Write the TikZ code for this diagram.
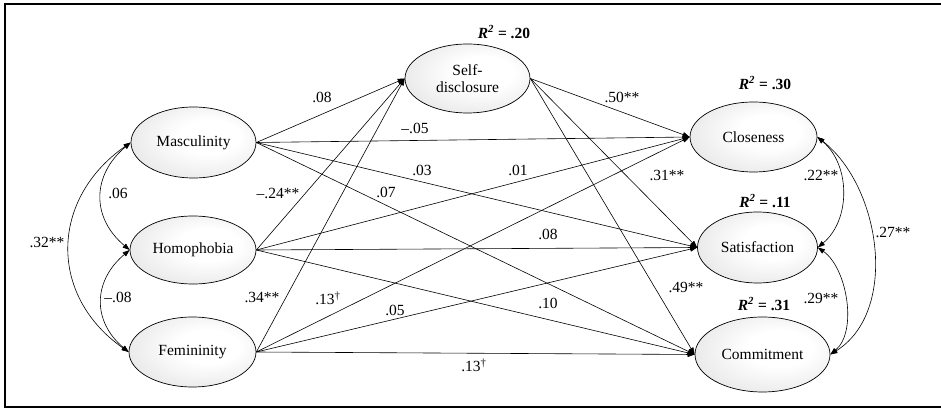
\documentclass[tikz,border=0pt]{standalone}
\usepackage{fontspec}
\setmainfont{Liberation Serif}
\usetikzlibrary{shapes.geometric, arrows.meta, positioning}

\pgfdeclareradialshading{ellshade}{\pgfpoint{8bp}{5bp}}{color(0bp)=(white); color(12bp)=(white); color(42bp)=(gray!28); color(60bp)=(gray!60)}

\tikzset{
  latent/.style={ellipse, draw, line width=0.7pt, inner sep=0pt, shade, shading=ellshade, align=center, font=\fontsize{15.5}{17}\selectfont},
  coef/.style={inner sep=0pt, font=\fontsize{15.5}{17}\selectfont},
  rsq/.style={inner sep=0pt, font=\fontsize{15.5}{17}\selectfont\bfseries},
  reg/.style={-{Triangle[length=7pt,width=5pt]}, line width=0.6pt},
  cov/.style={{Triangle[length=7pt,width=5pt]}-{Triangle[length=7pt,width=5pt]}, line width=0.6pt}
}

\begin{document}
\begin{tikzpicture}[x=1pt, y=1pt]

        \useasboundingbox (0,0) rectangle (941,409);
        \draw[line width=1.5pt] (945,405) -- (5,405) -- (5,2) -- (945,2);

        % exogenous
        \node[latent, minimum width=125pt, minimum height=71pt] (masc) at (193.5,266.5) {Masculinity};
        \node[latent, minimum width=126pt, minimum height=68pt] (homo) at (193,159) {Homophobia};
        \node[latent, minimum width=127pt, minimum height=70pt] (femi) at (192.5,57) {Femininity};
        % mediator and outcomes
        \node[latent, minimum width=125pt, minimum height=69pt] (self) at (467.5,330.5) {Self-\\disclosure};
        \node[latent, minimum width=127pt, minimum height=70pt] (close) at (753.5,272) {Closeness};
        \node[latent, minimum width=120pt, minimum height=71pt] (satis) at (757.5,161.5) {Satisfaction};
        \node[latent, minimum width=135pt, minimum height=75pt] (commit) at (762.5,54.5) {Commitment};

        \node[rsq] (r2self) at (504,377) {\textit{R}\textsuperscript{\textit{2}} = .20};
        \node[rsq] (r2close) at (765,326) {\textit{R}\textsuperscript{\textit{2}} = .30};
        \node[rsq] (r2satis) at (765,208) {\textit{R}\textsuperscript{\textit{2}} = .11};
        \node[rsq] (r2commit) at (764,105) {\textit{R}\textsuperscript{\textit{2}} = .31};

        \path[reg]
        (masc.east) edge (self.west)
        (masc.east) edge (close.west)
        (masc.east) edge (satis.west)
        (masc.east) edge (commit.west)
        (homo.east) edge (self.west)
        (homo.east) edge (close.west)
        (homo.east) edge (satis.west)
        (homo.east) edge (commit.west)
        (femi.east) edge (self.west)
        (femi.east) edge (close.west)
        (femi.east) edge (satis.west)
        (femi.east) edge (commit.west)
        (self.east) edge (close.west)
        (self.east) edge (satis.west)
        (self.east) edge (commit.west);

        \draw[cov] (masc.west) to[out=220, in=140, looseness=1.2] (homo.west);
        \draw[cov] (masc.west) to[out=215, in=145, looseness=1.2] (femi.west);
        \draw[cov] (homo.west) to[out=220, in=140, looseness=1.2] (femi.west);
        \draw[cov] (close.east) to[out=-40, in=40] (satis.east);
        \draw[cov] (close.east) to[out=-38, in=32, looseness=0.95] (commit.east);
        \draw[cov] (satis.east) to[out=-35, in=40, looseness=0.85] (commit.east);

        % path coefficients
        \node[coef] (bms) at (322,312) {.08};
        \node[coef] (bmc) at (415,281) {\textendash.05};
        \node[coef] (bmsa) at (422,239) {.03};
        \node[coef] (bmco) at (386,217) {.07};
        \node[coef] (bhs) at (278,216) {\textendash.24**};
        \node[coef] (bhc) at (518,239) {.01};
        \node[coef] (bhsa) at (548,175) {.08};
        \node[coef] (bhco) at (548,106) {.10};
        \node[coef] (bfs) at (262,112) {.34**};
        \node[coef] (bfc) at (328,111) {.13\textsuperscript{\dag}};
        \node[coef] (bfsa) at (395,99) {.05};
        \node[coef] (bfco) at (474,44) {.13\textsuperscript{\dag}};
        \node[coef] (bsc) at (622,312) {.50**};
        \node[coef] (bssa) at (667,234) {.31**};
        \node[coef] (bsco) at (686,122) {.49**};
        % correlations
        \node[coef] (rmh) at (118,216) {.06};
        \node[coef] (rmf) at (47,167) {.32**};
        \node[coef] (rhf) at (118,112) {\textendash.08};
        \node[coef] (rcs) at (821,234) {.22**};
        \node[coef] (rcc) at (893,177) {.27**};
        \node[coef] (rsc) at (821,111) {.29**};

\end{tikzpicture}
\end{document}
